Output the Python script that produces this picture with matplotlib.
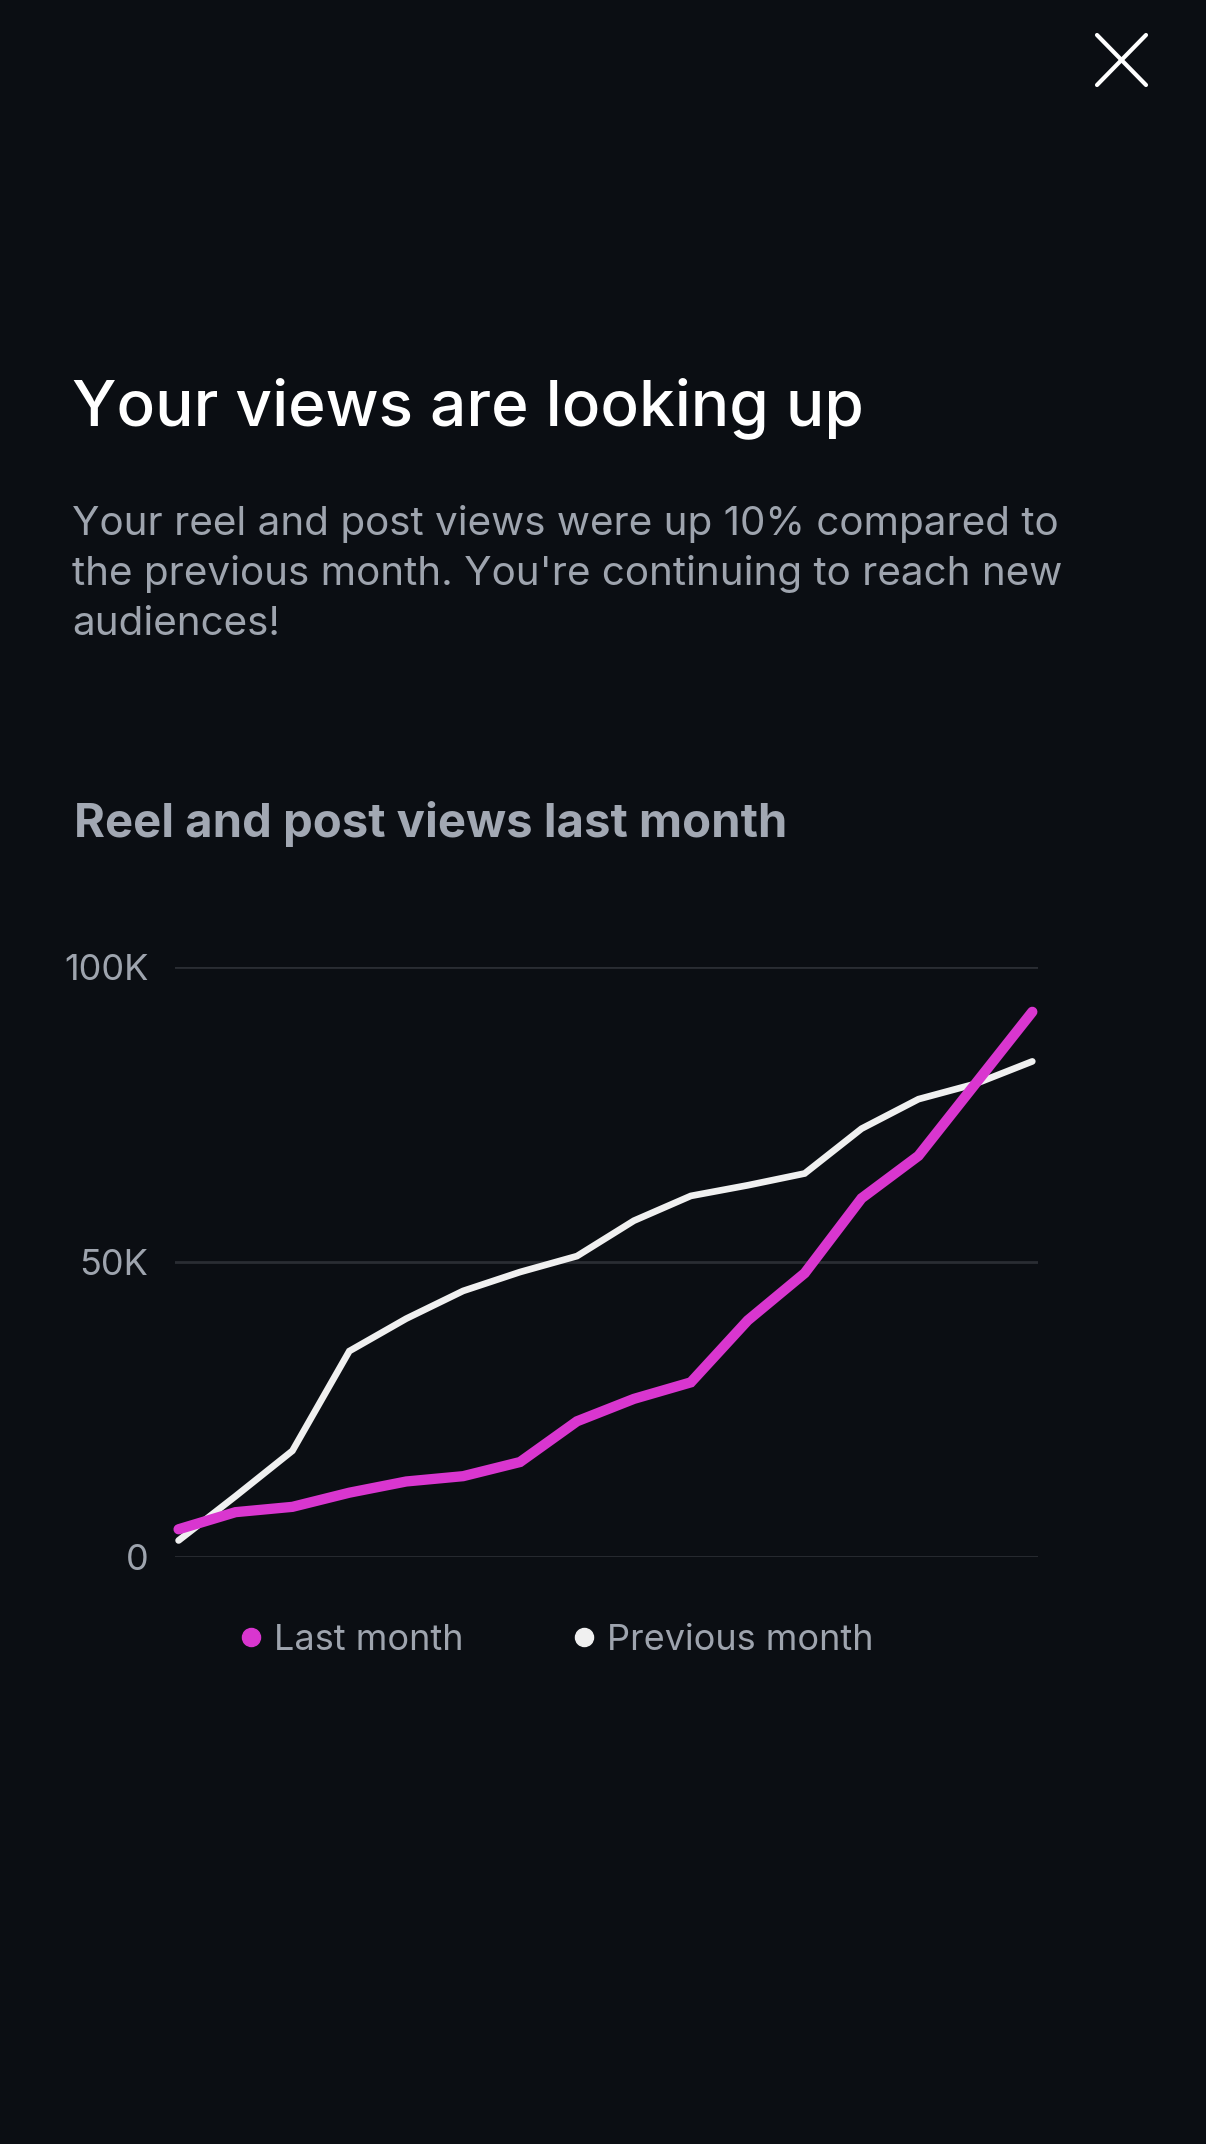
import numpy as np
import matplotlib
matplotlib.use("Agg")
import matplotlib.pyplot as plt
from matplotlib.lines import Line2D

# values (views, one point per period)
last_month = [4.7, 7.6, 8.5, 10.9, 12.8, 13.7, 16.1, 23.0, 26.8, 29.6,
              40.1, 48.1, 60.8, 68.0, 80.2, 92.4]
previous_month = [2.8, 10.3, 18.0, 34.9, 40.4, 45.1, 48.3, 51.0, 57.0, 61.2,
                  63.0, 65.0, 72.6, 77.6, 80.2, 84.0]
last_month = [v * 1000 for v in last_month]
previous_month = [v * 1000 for v in previous_month]
ytick_values = [0, 50000, 100000]
ytick_labels = ["0", "50K", "100K"]
series_names = ["Last month", "Previous month"]

BG = "#0b0e13"
MAGENTA = "#d936cf"
WHITE = "#f0f0f0"
GRID = "#2a2d33"
GRAY = "#9ea4ae"

W, H = 1206, 2144
plt.rcParams["font.family"] = ["Inter", "DejaVu Sans"]

fig = plt.figure(figsize=(W / 100, H / 100), dpi=100, facecolor=BG)


def fy(px):
    # pixel row from top -> figure fraction
    return 1 - px / H


def fx(px):
    return px / W


# close "X" in the corner
for xs, ys in (([1097, 1146], [35, 85]), ([1097, 1146], [85, 35])):
    fig.add_artist(Line2D([fx(x) for x in xs], [fy(y) for y in ys],
                          color="white", lw=3, solid_capstyle="round"))

fig.text(fx(72), fy(425), "Your views are looking up", color="white",
         fontsize=46, fontweight="medium", va="baseline", ha="left")
body = ["Your reel and post views were up 10% compared to",
        "the previous month. You're continuing to reach new",
        "audiences!"]
for i, line in enumerate(body):
    fig.text(fx(72), fy(535 + 50 * i), line, color=GRAY, fontsize=29.1,
             va="baseline", ha="left")
fig.text(fx(74), fy(837), "Reel and post views last month", color="#a2a8b3",
         fontsize=34, fontweight="bold", va="baseline", ha="left")

ax = fig.add_axes([fx(174.6), fy(1557), fx(1038 - 174.6), (1557 - 967) / H])
ax.set_facecolor(BG)
x = np.arange(len(last_month))
for v in ytick_values:
    ax.axhline(v, color=GRID, lw=2, zorder=0)
ax.plot(x, previous_month, color=WHITE, lw=4.8, solid_capstyle="round",
        solid_joinstyle="miter", clip_on=False, zorder=2)
ax.plot(x, last_month, color=MAGENTA, lw=7.4, solid_capstyle="round",
        solid_joinstyle="miter", clip_on=False, zorder=3)
ax.set_xlim(-0.07, 15.1)
ax.set_ylim(0, 100000)
ax.set_yticks(ytick_values)
ax.set_yticklabels(ytick_labels)
ax.set_xticks([])
ax.tick_params(axis="y", length=0, pad=19, labelsize=26, labelcolor=GRAY)
for s in ax.spines.values():
    s.set_visible(False)

handles = [Line2D([], [], marker="o", ls="none", color=c, markersize=13)
           for c in (MAGENTA, WHITE)]
leg = fig.legend(handles, series_names, loc="center left",
                 bbox_to_anchor=(fx(237), fy(1640)), ncol=2, frameon=False,
                 fontsize=26, labelcolor=GRAY, handlelength=0.8,
                 handletextpad=0.22, columnspacing=2.95, borderpad=0,
                 borderaxespad=0)

fig.savefig("out.png", dpi=100, facecolor=BG)
